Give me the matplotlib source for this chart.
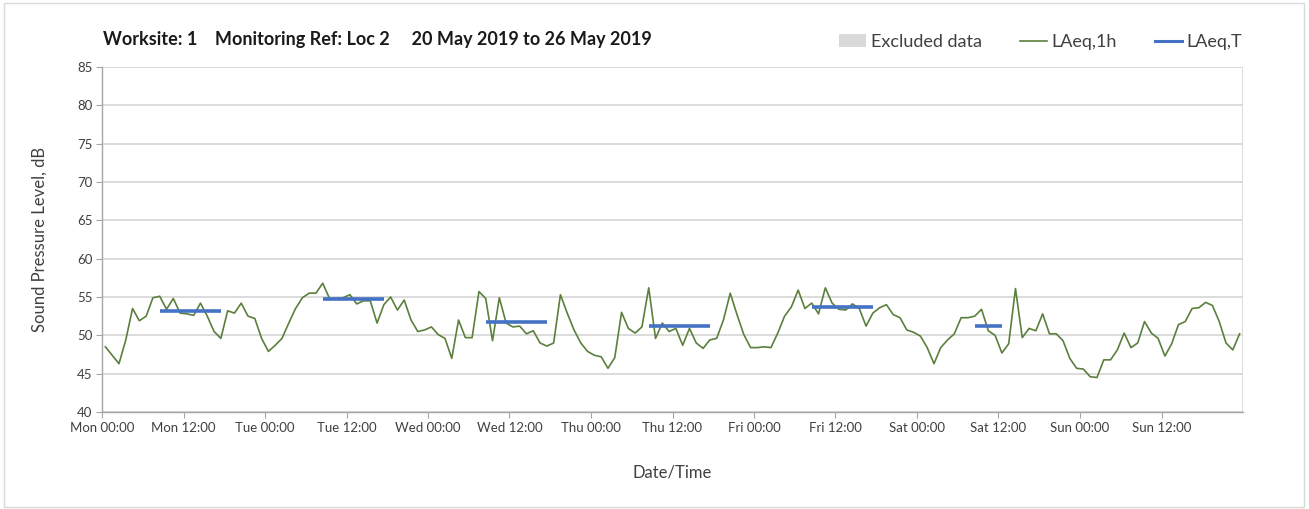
import numpy as np
import matplotlib
matplotlib.use("Agg")
import matplotlib.pyplot as plt
from matplotlib.patches import Patch, Rectangle
from matplotlib.lines import Line2D

plt.rcParams['font.family'] = ['Lato', 'DejaVu Sans']

# hourly LAeq,1h per day (values for hours 00..23)
mon = [48.5, 47.4, 46.3, 49.4, 53.5, 51.9, 52.5, 54.9, 55.1, 53.4, 54.8, 52.9,
       52.8, 52.6, 54.2, 52.5, 50.5, 49.6, 53.2, 52.9, 54.2, 52.5, 52.2, 49.6]
tue = [47.9, 48.7, 49.6, 51.6, 53.5, 54.9, 55.5, 55.5, 56.8, 54.8, 54.8, 54.9,
       55.3, 54.1, 54.5, 54.5, 51.6, 54.0, 55.0, 53.3, 54.6, 52.0, 50.5, 50.7]
wed = [51.1, 50.1, 49.6, 47.0, 52.0, 49.7, 49.7, 55.7, 54.8, 49.3, 54.9, 51.6,
       51.1, 51.2, 50.2, 50.6, 49.0, 48.6, 49.0, 55.3, 52.9, 50.7, 49.0, 47.9]
thu = [47.4, 47.2, 45.7, 47.1, 53.0, 50.9, 50.3, 51.1, 56.2, 49.6, 51.6, 50.5,
       50.9, 48.7, 50.9, 49.0, 48.3, 49.4, 49.6, 52.0, 55.5, 52.7, 50.1, 48.4]
fri = [48.4, 48.5, 48.4, 50.3, 52.5, 53.7, 55.9, 53.5, 54.2, 52.8, 56.2, 54.2,
       53.4, 53.3, 54.1, 53.5, 51.2, 52.9, 53.6, 54.0, 52.7, 52.3, 50.7, 50.4]
sat = [49.9, 48.4, 46.3, 48.4, 49.4, 50.2, 52.3, 52.3, 52.5, 53.4, 50.6, 50.0,
       47.7, 48.9, 56.1, 49.7, 50.9, 50.6, 52.8, 50.2, 50.2, 49.3, 47.0, 45.7]
sun = [45.6, 44.6, 44.5, 46.8, 46.8, 48.1, 50.3, 48.4, 49.0, 51.8, 50.3, 49.6,
       47.3, 48.9, 51.4, 51.8, 53.5, 53.6, 54.3, 53.9, 51.8, 49.0, 48.1, 50.2]

# LAeq,T over the measurement period of each day
laeq_t_day = [0, 1, 2, 3, 4, 5]
laeq_t_from = [8, 8, 8, 8, 8, 8]
laeq_t_to = [18, 18, 18, 18, 18, 13]
laeq_t_val = [53.15, 54.7, 51.7, 51.25, 53.7, 51.2]

excluded = []  # (start_hour, end_hour) periods - none this week

day_names = ["Mon", "Tue", "Wed", "Thu", "Fri", "Sat", "Sun"]

laeq_1h = np.array(mon + tue + wed + thu + fri + sat + sun)
hours = np.arange(len(laeq_1h)) + 0.5

GREEN = "#5b7f3c"
BLUE = "#4472c4"
GRID = "#d9d9d9"
AXIS = "#a6a6a6"
TXT = "#404040"

fig = plt.figure(figsize=(13.09, 5.09), dpi=100)
ax = fig.add_axes([102 / 1309, 1 - 412 / 509, 1141 / 1309, 345 / 509])

for s, e in excluded:
    ax.axvspan(s, e, color="#d9d9d9", lw=0)

ax.plot(hours, laeq_1h, color=GREEN, lw=1.2, zorder=3)
for d, a, b, v in zip(laeq_t_day, laeq_t_from, laeq_t_to, laeq_t_val):
    ax.hlines(v, d * 24 + a + 0.5, d * 24 + b - 0.5, color=BLUE, lw=2.6, zorder=4)

ax.set_xlim(0, 168)
ax.set_ylim(40, 85)
ax.set_yticks(np.arange(40, 86, 5))
ax.set_xticks(np.arange(0, 168, 12))
ax.set_xticklabels([f"{day_names[h // 24]} {h % 24:02d}:00" for h in range(0, 168, 12)])
ax.set_xticks(np.arange(0, 169, 24), minor=True)

ax.grid(axis="y", color=GRID, lw=1.3)
ax.grid(axis="x", which="minor", color=GRID, lw=1.3)
ax.set_axisbelow(True)

for side in ["top", "right"]:
    ax.spines[side].set_visible(False)
for side in ["left", "bottom"]:
    ax.spines[side].set_color(AXIS)
    ax.spines[side].set_linewidth(1.0)
ax.tick_params(axis="both", which="major", direction="out", length=4, color=AXIS,
               labelsize=9.5, labelcolor=TXT, pad=3)
ax.tick_params(axis="x", which="minor", length=0)

ax.set_ylabel("Sound Pressure Level, dB", fontsize=12, color=TXT, labelpad=21)
ax.set_xlabel("Date/Time", fontsize=12, color=TXT, labelpad=22)

fig.text(103 / 1309, 1 - 40 / 509,
         "Worksite: 1    Monitoring Ref: Loc 2     20 May 2019 to 26 May 2019",
         fontsize=13, fontweight="bold", color="#1a1a1a", va="center", ha="left")

handles = [Patch(facecolor="#d9d9d9", edgecolor="none", label="Excluded data"),
           Line2D([], [], color=GREEN, lw=1.2, label="LAeq,1h"),
           Line2D([], [], color=BLUE, lw=2.2, label="LAeq,T")]
fig.legend(handles=handles, ncol=3, frameon=False, loc="center right",
           bbox_to_anchor=(1258 / 1309, 1 - 42 / 509), fontsize=13,
           handlelength=1.5, handletextpad=0.25, columnspacing=2.1,
           labelcolor=TXT)

fig.add_artist(Rectangle((0.003, 0.004), 0.993, 0.99, transform=fig.transFigure,
                         fill=False, edgecolor="#d9d9d9", lw=1))

fig.savefig("out.png", dpi=100)
